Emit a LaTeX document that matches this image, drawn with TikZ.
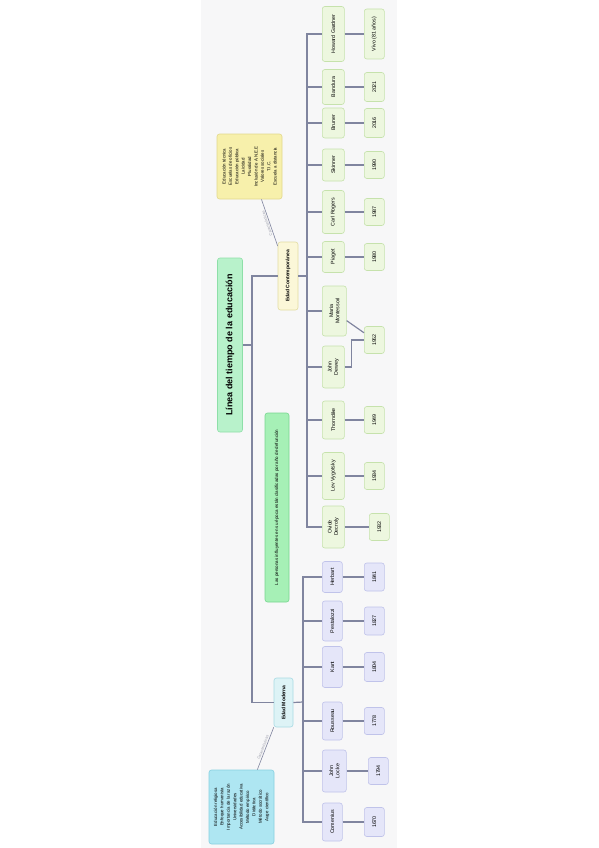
\documentclass[tikz,border=0pt]{standalone}
\usepackage{fontspec}
\setmainfont{Liberation Sans}

\definecolor{bgcol}{HTML}{F7F7F8}
\definecolor{linkcol}{HTML}{80859F}
\definecolor{tagcol}{HTML}{9A9CAA}
\definecolor{titlefill}{HTML}{B8F2CB}
\definecolor{titleline}{HTML}{8EDFA8}
\definecolor{notefill}{HTML}{A6F0B6}
\definecolor{noteline}{HTML}{78D690}
\definecolor{newfill}{HTML}{FBF7D8}
\definecolor{newline}{HTML}{E2DCA2}
\definecolor{traitfill}{HTML}{F7F0AB}
\definecolor{traitline}{HTML}{E2D88C}
\definecolor{greenfill}{HTML}{EDF7DF}
\definecolor{greenline}{HTML}{C6E2AC}
\definecolor{oldfill}{HTML}{DDF3F6}
\definecolor{oldline}{HTML}{A8DBE4}
\definecolor{skyfill}{HTML}{AEE6F2}
\definecolor{skyline}{HTML}{88D0E0}
\definecolor{lilacfill}{HTML}{E5E6F9}
\definecolor{lilacline}{HTML}{C0C3EA}

\begin{document}
\begin{tikzpicture}[x=1pt,y=-1pt,
		box/.style={draw,rotate=90,rounded corners=2.5pt,align=center,inner sep=1pt,line width=0.6pt},
		title node/.style={box,fill=titlefill,draw=titleline,minimum width=174,minimum height=25,
			font=\fontsize{9}{10}\selectfont\bfseries},
		era node/.style={box,font=\fontsize{5}{6}\selectfont\bfseries},
		trait node/.style={box,minimum width=70,minimum height=65,font=\fontsize{4.4}{6.4}\selectfont},
		new person/.style={box,fill=greenfill,draw=greenline,minimum height=22,anchor=north,
			font=\fontsize{5.3}{6.2}\selectfont},
		new year/.style={new person,minimum height=20,minimum width=27},
		old person/.style={box,fill=lilacfill,draw=lilacline,minimum height=20,anchor=north,
			font=\fontsize{5.3}{6.2}\selectfont},
		old year/.style={old person,minimum width=28},
		link/.style={draw=linkcol,line width=1.2pt},
		elbow/.style={to path={|- (\tikztotarget)}},
		tag/.style={font=\fontsize{3.8}{4}\selectfont,text=tagcol,sloped,above,inner sep=1pt}]

	\useasboundingbox (0,0) rectangle (599,848);
	\fill[bgcol] (201,0) rectangle (397,848);

	% central topic and the two ages
	\node[title node] (title) at (230,345) {Línea del tiempo de la educación};
	\node[era node,fill=newfill,draw=newline,minimum width=68,minimum height=20] (ec) at (288,276) {Edad Contemporánea};
	\node[era node,fill=oldfill,draw=oldline,minimum width=49,minimum height=19] (em) at (283.5,702.5) {Edad Moderna};

	\node[box,fill=notefill,draw=noteline,minimum width=189,minimum height=24,
		font=\fontsize{4.5}{5}\selectfont] (note) at (277,507.5)
		{Las personas influyentes en su época están clasificadas por año de defunción};

	\node[trait node,fill=traitfill,draw=traitline,minimum width=65] (yb) at (249.5,166.5)
		{Educación técnica\\Escuelas de oficios\\Educación pública\\Laicidad\\Pluralidad\\
		Inclusión de A.N.E.E\\Valores sociales\\T.I.C.\\Escuela a distancia};
	\node[trait node,fill=skyfill,draw=skyline,minimum width=74] (bb) at (241.5,807)
		{Educación religiosa\\Enfoque humanista\\Importancia de la razón\\Universidades\\
		Accesibilidad educativa\\Método empírico\\Didáctica\\Método socrático\\Auge científico};

	\coordinate (sp) at (252,345);
	\coordinate (cs) at (307,276);
	\coordinate (ms) at (303,702);

	% Edad Contemporanea
	\node[new person,minimum width=55] (hg) at (322,34) {Howard Gardner};
	\node[new person,minimum width=35] (ba) at (322,87) {Bandura};
	\node[new person,minimum width=30] (br) at (322,123) {Bruner};
	\node[new person,minimum width=32] (sk) at (322,165) {Skinner};
	\node[new person,minimum width=43] (cr) at (322,212) {Carl Rogers};
	\node[new person,minimum width=31] (pi) at (322,257) {Piaget};
	\node[new person,minimum width=50,minimum height=24] (mm) at (322,311) {Maria\\Montessori};
	\node[new person,minimum width=42] (jd) at (322,367) {John\\Dewey};
	\node[new person,minimum width=38] (th) at (322,420) {Thorndike};
	\node[new person,minimum width=47] (lv) at (322,476) {Lev Vygotsky};
	\node[new person,minimum width=42] (od) at (322,527) {Ovide\\Decroly};

	\node[new year,minimum width=50] (yhg) at (364,34) {Vivo (81 años)};
	\node[new year,minimum width=29] (yba) at (364,87) {2021};
	\node[new year,minimum width=29] (ybr) at (364,123) {2016};
	\node[new year] (ysk) at (364,165) {1990};
	\node[new year] (ycr) at (364,212) {1987};
	\node[new year] (ypi) at (364,257) {1980};
	\node[new year] (y52) at (364,340) {1952};
	\node[new year] (yth) at (364,420) {1949};
	\node[new year] (ylv) at (364,476) {1934};
	\node[new year] (yod) at (369,527) {1932};

	% Edad Moderna
	\node[old person,minimum width=31] (he) at (322,577) {Herbart};
	\node[old person,minimum width=40] (pe) at (322,621) {Pestalozzi};
	\node[old person,minimum width=41] (ka) at (322,667) {Kant};
	\node[old person,minimum width=38] (ro) at (322,721) {Rousseau};
	\node[old person,minimum width=42,minimum height=24] (jl) at (322,771) {John\\Locke};
	\node[old person,minimum width=38] (co) at (322,822) {Comenius};

	\node[old year] (yhe) at (364,577) {1841};
	\node[old year] (ype) at (364,621) {1827};
	\node[old year,minimum width=29] (yka) at (364,667) {1804};
	\node[old year,minimum width=27] (yro) at (364,721) {1778};
	\node[old year,minimum width=27] (yjl) at (368,771) {1794};
	\node[old year,minimum width=29] (yco) at (364,822) {1670};

	% connectors
	\path[link]
	(title.south) edge (sp)
	(sp) edge[elbow] (ec.north)
	(sp) edge[elbow] (em.north)
	(ec.south) edge (cs)
	(em.south) edge (ms);

	\path[link]
	(cs) edge[elbow] (hg.north) (cs) edge[elbow] (ba.north)
	(cs) edge[elbow] (br.north) (cs) edge[elbow] (sk.north)
	(cs) edge[elbow] (cr.north) (cs) edge[elbow] (pi.north)
	(cs) edge[elbow] (mm.north) (cs) edge[elbow] (jd.north)
	(cs) edge[elbow] (th.north) (cs) edge[elbow] (lv.north)
	(cs) edge[elbow] (od.north)
	(hg.south) edge (yhg.north) (ba.south) edge (yba.north)
	(br.south) edge (ybr.north) (sk.south) edge (ysk.north)
	(cr.south) edge (ycr.north) (pi.south) edge (ypi.north)
	(mm.-128) edge (y52.55)
	(th.south) edge (yth.north) (lv.south) edge (ylv.north)
	(od.south) edge (yod.north);
	\draw[link] (jd.south) -- ++(7,0) |- (y52.north);

	\path[link]
	(ms) edge[elbow] (he.north) (ms) edge[elbow] (pe.north)
	(ms) edge[elbow] (ka.north) (ms) edge[elbow] (ro.north)
	(ms) edge[elbow] (jl.north) (ms) edge[elbow] (co.north)
	(he.south) edge (yhe.north) (pe.south) edge (ype.north)
	(ka.south) edge (yka.north) (ro.south) edge (yro.north)
	(jl.south) edge (yjl.north) (co.south) edge (yco.north);

	% characteristics
	\path[draw=linkcol,line width=0.6pt]
	(bb.-23) edge node[tag] {Características} (em.north west)
	(ec.19) edge node[tag,allow upside down] {Características} (yb.-160);
\end{tikzpicture}
\end{document}
